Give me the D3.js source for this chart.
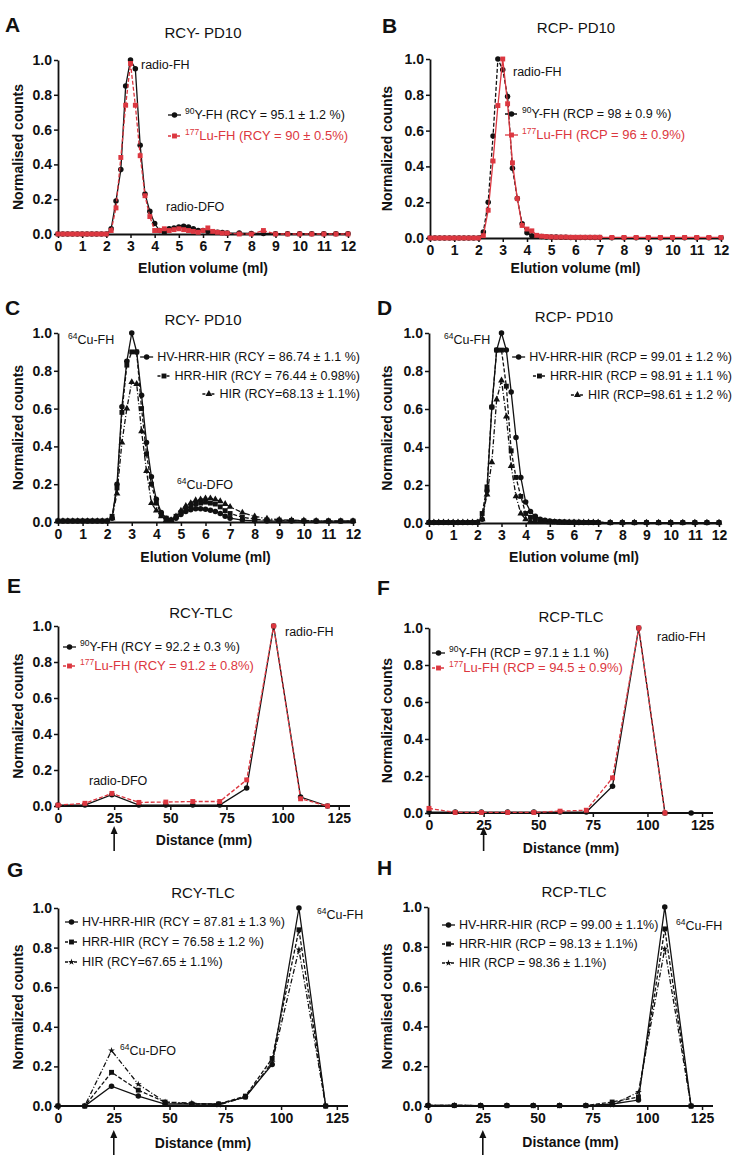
<!DOCTYPE html>
<html><head><meta charset="utf-8">
<script src="https://cdn.jsdelivr.net/npm/d3@7"></script>
<style>
body{margin:0;background:#fff}
text{font-family:"Liberation Sans",Arial,sans-serif;fill:#111}
</style></head><body>
<script>
var RED = "#dc3740";

// PD10 elution volumes (ml)
var pd10Vol = [0,0.2,0.4,0.6,0.8,1,1.2,1.4,1.6,1.8,2,
  2.2,2.4,2.6,2.8,3,3.2,3.4,3.6,3.8,4,4.2,4.4,4.6,4.8,5,5.2,5.4,5.6,5.8,6,6.2,6.4,6.6,6.8,7,
  7.5,8,8.5,9,9.5,10,10.5,11,11.5,12];
// TLC distance (mm)
var tlcDist = [0,12,24,36,48,60,72,84,96,108,120];

var pd10Ticks = [0,1,2,3,4,5,6,7,8,9,10,11,12];
var tlcTicks = [0,25,50,75,100,125];
var yTicks = [0,0.2,0.4,0.6,0.8,1.0];

// A  RCY PD10
var aY90 = [0,0,0,0,0,0,0,0,0,0,0,
  0.03,0.19,0.37,0.85,1.0,0.95,0.51,0.23,0.13,0.06,0.02,0.01,0.03,0.035,0.04,0.045,0.04,0.03,0.02,0.02,0.015,0.01,0.01,0.008,0.005,
  0.005,0.003,0.003,0.002,0.002,0.002,0.002,0.002,0.002,0.002];
var aLu = [0,0,0,0,0,0,0,0,0,0,0,
  0.02,0.15,0.44,0.74,0.98,0.74,0.45,0.22,0.1,0.02,0.02,0.03,0.02,0.025,0.03,0.025,0.02,0.015,0.01,0.02,0.035,0.015,0.01,0.005,0.005,
  0,0,0.02,0,0,0,0,0,0,0];
// B  RCP PD10
var bY90 = [0,0,0,0,0,0,0,0,0,0,0,
  0.034,0.2,0.57,1.0,0.94,0.79,0.39,0.22,0.08,0.03,0.013,0.01,0.008,0.006,0.005,0.005,0.004,0.004,0.003,0.003,0.003,0.003,0.003,0.003,0.003,
  0.002,0.002,0.002,0.002,0.002,0.002,0.002,0.002,0.002,0.002];
var bLu = [0,0,0,0,0,0,0,0,0,0,0,
  0.013,0.155,0.43,0.74,1.0,0.75,0.42,0.22,0.07,0.05,0.04,0.015,0.01,0.008,0.006,0.005,0.005,0.005,0.004,0.004,0.004,0.004,0.004,0.004,0.004,
  0.003,0.003,0.003,0.003,0.003,0.003,0.003,0.003,0.003,0.003];
// C  RCY PD10 64Cu
var cHV = [0.005,0.005,0.005,0.005,0.005,0.005,0.005,0.005,0.005,0.005,0.005,
  0.02,0.2,0.61,0.85,1.0,0.9,0.67,0.42,0.24,0.12,0.05,0.02,0.01,0.02,0.04,0.055,0.065,0.07,0.07,0.068,0.062,0.055,0.045,0.03,0.02,
  0.01,0.006,0.005,0.005,0.005,0.005,0.005,0.005,0.005,0.005];
var cHRR = [0.005,0.005,0.005,0.005,0.005,0.005,0.005,0.005,0.005,0.005,0.005,
  0.03,0.18,0.58,0.83,0.9,0.9,0.6,0.36,0.2,0.1,0.04,0.02,0.01,0.03,0.05,0.07,0.085,0.095,0.1,0.105,0.1,0.095,0.08,0.06,0.045,
  0.025,0.015,0.01,0.01,0.008,0.006,0.005,0.005,0.005,0.005];
var cHIR = [0.005,0.005,0.005,0.005,0.005,0.005,0.005,0.005,0.005,0.005,0.005,
  0.02,0.15,0.42,0.6,0.74,0.73,0.48,0.27,0.1,0.06,0.03,0.01,0.01,0.03,0.06,0.085,0.1,0.115,0.12,0.125,0.125,0.12,0.11,0.095,0.08,
  0.05,0.03,0.018,0.012,0.01,0.008,0.006,0.005,0.005,0.005];
// D  RCP PD10 64Cu
var dHV = [0.003,0.003,0.003,0.003,0.003,0.003,0.003,0.003,0.003,0.003,0.003,
  0.02,0.17,0.61,0.91,1.0,0.91,0.69,0.45,0.24,0.11,0.06,0.035,0.02,0.015,0.01,0.008,0.006,0.005,0.004,0.004,0.003,0.003,0.003,0.003,0.003,
  0.002,0.002,0.002,0.002,0.002,0.002,0.002,0.002,0.002,0.002];
var dHRR = [0.003,0.003,0.003,0.003,0.003,0.003,0.003,0.003,0.003,0.003,0.003,
  0.05,0.19,0.61,0.91,0.91,0.72,0.38,0.24,0.14,0.05,0.03,0.02,0.015,0.01,0.008,0.006,0.005,0.005,0.004,0.004,0.004,0.003,0.003,0.003,0.003,
  0.002,0.002,0.002,0.002,0.002,0.002,0.002,0.002,0.002,0.002];
var dHIR = [0.003,0.003,0.003,0.003,0.003,0.003,0.003,0.003,0.003,0.003,0.003,
  0.02,0.15,0.32,0.65,0.75,0.56,0.3,0.14,0.05,0.02,0.01,0.008,0.006,0.005,0.004,0.004,0.003,0.003,0.003,0.003,0.003,0.003,0.003,0.003,0.003,
  0.002,0.002,0.002,0.002,0.002,0.002,0.002,0.002,0.002,0.002];
// E  RCY TLC
var eY90 = [0.005,0.005,0.063,0.005,0.005,0.005,0.005,0.1,1.0,0.05,0];
var eLu  = [0.005,0.015,0.07,0.02,0.022,0.025,0.025,0.145,1.0,0.04,0];
// F  RCP TLC
var fY90 = [0.005,0.005,0.005,0.005,0.005,0.005,0.005,0.145,1.0,0,0];
var fLu  = [0.025,0.003,0.003,0.003,0.003,0.01,0.015,0.19,1.0,0,0];
// G  RCY TLC 64Cu
var gHV  = [0,0,0.1,0.05,0.01,0.01,0.01,0.045,0.21,1.0,0];
var gHRR = [0,0,0.17,0.08,0.02,0.01,0.01,0.05,0.24,0.89,0];
var gHIR = [0,0,0.28,0.11,0.02,0.015,0.005,0.045,0.22,0.79,0];
// H  RCP TLC 64Cu
var hHV  = [0.003,0.003,0.002,0.002,0.002,0.002,0.002,0.01,0.03,1.0,0];
var hHRR = [0.003,0.003,0.002,0.002,0.002,0.002,0.002,0.02,0.045,0.89,0];
var hHIR = [0.003,0.003,0.002,0.002,0.002,0.002,0.002,0.005,0.07,0.79,0];

// line styles
var solidDot   = {stroke:"#111", dash:null, sym:d3.symbolCircle, size:24};
var dashDot    = {stroke:"#111", dash:"4,2", sym:d3.symbolCircle, size:24};
var redSquare  = {stroke:RED, dash:"4,2", sym:d3.symbolSquare, size:24};
var redSolid   = {stroke:RED, dash:null, sym:d3.symbolSquare, size:24};
var dashSquare = {stroke:"#111", dash:"4,2", sym:d3.symbolSquare, size:24};
var dotTri     = {stroke:"#111", dash:"5,2,1,2", sym:d3.symbolTriangle, size:20};
var dotStar    = {stroke:"#111", dash:"5,2,1,2", sym:d3.symbolStar, size:14};

var svg = d3.select("body").append("svg")
  .attr("width", 738).attr("height", 1161);
svg.append("rect").attr("width",738).attr("height",1161).attr("fill","#fff");

function supText(g, x, y, sup, rest, opt) {
  opt = opt || {};
  var t = g.append("text").attr("x", x).attr("y", y)
    .attr("font-size", opt.size || 12)
    .attr("text-anchor", opt.anchor || "start")
    .style("fill", opt.color || "#111");
  if (sup) {
    t.append("tspan").attr("font-size", 8.5).attr("dy", -5).text(sup);
    t.append("tspan").attr("dy", 5).text(rest);
  } else {
    t.text(rest);
  }
  return t;
}

function panel(p) {
  var g = svg.append("g");
  var x = d3.scaleLinear().domain(p.xDomain).range([p.left, p.right]);
  var y = d3.scaleLinear().domain([0, 1]).range([p.bottom, p.top]);

  var xa = g.append("g").attr("transform", "translate(0," + p.bottom + ")")
    .call(d3.axisBottom(x).tickValues(p.xTicks).tickSize(4).tickSizeOuter(0).tickPadding(3).tickFormat(d3.format("d")));
  var ya = g.append("g").attr("transform", "translate(" + p.left + ",0)")
    .call(d3.axisLeft(y).tickValues(yTicks).tickSize(4).tickSizeOuter(0).tickPadding(2).tickFormat(d3.format(".1f")));
  [xa, ya].forEach(function(a) {
    a.select(".domain").attr("stroke", "#111").attr("stroke-width", 1.8);
    a.selectAll(".tick line").attr("stroke", "#111").attr("stroke-width", 1.5);
    a.selectAll(".tick text").attr("font-size", 14).attr("font-weight", "bold")
      .attr("font-family", "'Liberation Sans',Arial,sans-serif").style("fill", "#111");
  });
  if (p.xDomain[1] > 12) {
    // axis line runs a bit past the last tick
    xa.select(".domain").attr("d", "M" + p.left + ",0H" + p.right);
  }

  var line = d3.line().x(function(d) { return x(d[0]); }).y(function(d) { return y(d[1]); });

  p.series.forEach(function(s) {
    var pts = s.xs.map(function(v, i) { return [v, s.ys[i]]; });
    g.append("path").datum(pts).attr("d", line)
      .attr("fill", "none").attr("stroke", s.st.stroke).attr("stroke-width", 1.3)
      .attr("stroke-dasharray", s.st.dash);
    g.selectAll(null).data(pts).enter().append("path")
      .attr("transform", function(d) { return "translate(" + x(d[0]) + "," + y(d[1]) + ")"; })
      .attr("d", d3.symbol().type(s.st.sym).size(s.st.size))
      .attr("fill", s.st.stroke);
  });

  // legend
  p.legend.forEach(function(l, i) {
    var s = p.series[i];
    var isRed = s.st.stroke === RED;
    var t = supText(g, l.x, l.y + 4, l.sup, l.text, {size: isRed ? 13 : 12.5, color: isRed ? RED : "#111",
      anchor: l.anchor});
    var start = l.x;
    if (l.anchor === "end") start = l.x - t.node().getComputedTextLength();
    g.append("line").attr("x1", start - 17).attr("x2", start - 4).attr("y1", l.y).attr("y2", l.y)
      .attr("stroke", s.st.stroke).attr("stroke-width", 1.3).attr("stroke-dasharray", s.st.dash ? "3,1.5" : null);
    g.append("path").attr("transform", "translate(" + (start - 10.5) + "," + l.y + ")")
      .attr("d", d3.symbol().type(s.st.sym).size(s.st.size)).attr("fill", s.st.stroke);
  });

  p.notes.forEach(function(n) { supText(g, n.x, n.y, n.sup, n.text, {size: 12.5}); });

  // panel letter, title, axis titles
  g.append("text").attr("x", p.letter[0]).attr("y", p.letter[1]).attr("font-size", 21)
    .attr("font-weight", "bold").text(p.letter[2]);
  g.append("text").attr("x", p.title[0]).attr("y", p.title[1]).attr("text-anchor", "middle")
    .attr("font-size", 15).text(p.title[2]);
  g.append("text").attr("x", (p.left + p.right) / 2).attr("y", p.xTitleY).attr("text-anchor", "middle")
    .attr("font-size", 14).attr("font-weight", "bold").text(p.xTitle);
  g.append("text").attr("transform", "translate(" + p.yTitleX + "," + ((p.top + p.bottom) / 2) + ") rotate(-90)")
    .attr("text-anchor", "middle").attr("font-size", 14).attr("font-weight", "bold").text(p.yTitle);

  if (p.arrow) {
    var ax = x(25);
    g.append("line").attr("x1", ax).attr("x2", ax).attr("y1", p.arrow[0] + 6).attr("y2", p.arrow[1])
      .attr("stroke", "#111").attr("stroke-width", 1.6);
    g.append("path").attr("d", "M" + ax + "," + p.arrow[0] + "l-3.5,8h7z").attr("fill", "#111");
  }
}

panel({
  left: 58, right: 348, top: 60, bottom: 234, xDomain: [0, 12], xTicks: pd10Ticks,
  series: [{xs: pd10Vol, ys: aY90, st: solidDot}, {xs: pd10Vol, ys: aLu, st: redSquare}],
  legend: [{x: 185, y: 115, sup: "90", text: "Y-FH (RCY = 95.1 ± 1.2 %)"},
           {x: 185, y: 136, sup: "177", text: "Lu-FH (RCY = 90 ± 0.5%)"}],
  notes: [{x: 141, y: 69, text: "radio-FH"}, {x: 166, y: 211, text: "radio-DFO"}],
  letter: [5, 32, "A"], title: [203, 38, "RCY- PD10"],
  xTitle: "Elution volume (ml)", xTitleY: 273, yTitle: "Normalised counts", yTitleX: 23
});
panel({
  left: 430, right: 721, top: 59, bottom: 238, xDomain: [0, 12], xTicks: pd10Ticks,
  series: [{xs: pd10Vol, ys: bY90, st: dashDot}, {xs: pd10Vol, ys: bLu, st: redSolid}],
  legend: [{x: 522, y: 114, sup: "90", text: "Y-FH (RCP = 98 ± 0.9 %)"},
           {x: 522, y: 135, sup: "177", text: "Lu-FH (RCP = 96 ± 0.9%)"}],
  notes: [{x: 513, y: 76, text: "radio-FH"}],
  letter: [382, 33, "B"], title: [576, 33, "RCP- PD10"],
  xTitle: "Elution volume (ml)", xTitleY: 273, yTitle: "Normalized counts", yTitleX: 392
});
panel({
  left: 58, right: 353, top: 333, bottom: 522, xDomain: [0, 12], xTicks: pd10Ticks,
  series: [{xs: pd10Vol, ys: cHV, st: solidDot}, {xs: pd10Vol, ys: cHRR, st: dashSquare}, {xs: pd10Vol, ys: cHIR, st: dotTri}],
  legend: [{x: 360, y: 357, anchor: "end", text: "HV-HRR-HIR (RCY = 86.74 ± 1.1 %)"},
           {x: 360, y: 376, anchor: "end", text: "HRR-HIR (RCY = 76.44 ± 0.98%)"},
           {x: 360, y: 394, anchor: "end", text: "HIR (RCY=68.13 ± 1.1%)"}],
  notes: [{x: 68, y: 344, sup: "64", text: "Cu-FH"}, {x: 177, y: 489, sup: "64", text: "Cu-DFO"}],
  letter: [5, 315, "C"], title: [203, 325, "RCY- PD10"],
  xTitle: "Elution Volume (ml)", xTitleY: 562, yTitle: "Normalized counts", yTitleX: 23
});
panel({
  left: 429, right: 719, top: 333, bottom: 523, xDomain: [0, 12], xTicks: pd10Ticks,
  series: [{xs: pd10Vol, ys: dHV, st: solidDot}, {xs: pd10Vol, ys: dHRR, st: dashSquare}, {xs: pd10Vol, ys: dHIR, st: dotTri}],
  legend: [{x: 732, y: 357, anchor: "end", text: "HV-HRR-HIR (RCP = 99.01 ± 1.2 %)"},
           {x: 732, y: 376, anchor: "end", text: "HRR-HIR (RCP = 98.91 ± 1.1 %)"},
           {x: 732, y: 395, anchor: "end", text: "HIR (RCP=98.61 ± 1.2 %)"}],
  notes: [{x: 444, y: 344, sup: "64", text: "Cu-FH"}],
  letter: [377, 315, "D"], title: [574, 322, "RCP- PD10"],
  xTitle: "Elution volume (ml)", xTitleY: 562, yTitle: "Normalized counts", yTitleX: 392
});
panel({
  left: 58, right: 350, top: 626, bottom: 806, xDomain: [0, 130], xTicks: tlcTicks,
  series: [{xs: tlcDist, ys: eY90, st: solidDot}, {xs: tlcDist, ys: eLu, st: redSquare}],
  legend: [{x: 80, y: 647, sup: "90", text: "Y-FH (RCY = 92.2 ± 0.3 %)"},
           {x: 80, y: 666, sup: "177", text: "Lu-FH (RCY = 91.2 ± 0.8%)"}],
  notes: [{x: 285, y: 636, text: "radio-FH"}, {x: 89, y: 785, text: "radio-DFO"}],
  letter: [7, 593, "E"], title: [201, 618, "RCY-TLC"],
  xTitle: "Distance (mm)", xTitleY: 845, yTitle: "Normalized counts", yTitleX: 23,
  arrow: [826, 851]
});
panel({
  left: 429, right: 713, top: 628, bottom: 813, xDomain: [0, 130], xTicks: tlcTicks,
  series: [{xs: tlcDist, ys: fY90, st: solidDot}, {xs: tlcDist.slice(0, 10), ys: fLu.slice(0, 10), st: redSquare}],
  legend: [{x: 449, y: 653, sup: "90", text: "Y-FH (RCP = 97.1 ± 1.1 %)"},
           {x: 449, y: 668, sup: "177", text: "Lu-FH (RCP = 94.5 ± 0.9%)"}],
  notes: [{x: 657, y: 641, text: "radio-FH"}],
  letter: [377, 595, "F"], title: [571, 622, "RCP-TLC"],
  xTitle: "Distance (mm)", xTitleY: 853, yTitle: "Normalized counts", yTitleX: 392,
  arrow: [827, 851]
});
panel({
  left: 58, right: 348, top: 908, bottom: 1106, xDomain: [0, 130], xTicks: tlcTicks,
  series: [{xs: tlcDist, ys: gHV, st: solidDot}, {xs: tlcDist, ys: gHRR, st: dashSquare}, {xs: tlcDist, ys: gHIR, st: dotStar}],
  legend: [{x: 82, y: 922, text: "HV-HRR-HIR (RCY = 87.81 ± 1.3 %)"},
           {x: 82, y: 942, text: "HRR-HIR (RCY = 76.58 ± 1.2 %)"},
           {x: 82, y: 962, text: "HIR (RCY=67.65 ± 1.1%)"}],
  notes: [{x: 317, y: 919, sup: "64", text: "Cu-FH"}, {x: 120, y: 1055, sup: "64", text: "Cu-DFO"}],
  letter: [7, 877, "G"], title: [203, 898, "RCY-TLC"],
  xTitle: "Distance (mm)", xTitleY: 1148, yTitle: "Normalized counts", yTitleX: 23,
  arrow: [1130, 1155]
});
panel({
  left: 428, right: 713, top: 907, bottom: 1106, xDomain: [0, 130], xTicks: tlcTicks,
  series: [{xs: tlcDist, ys: hHV, st: solidDot}, {xs: tlcDist, ys: hHRR, st: dashSquare}, {xs: tlcDist, ys: hHIR, st: dotStar}],
  legend: [{x: 459, y: 925, text: "HV-HRR-HIR (RCP = 99.00 ± 1.1%)"},
           {x: 459, y: 944, text: "HRR-HIR (RCP = 98.13 ± 1.1%)"},
           {x: 459, y: 963, text: "HIR (RCP = 98.36 ± 1.1%)"}],
  notes: [{x: 676, y: 930, sup: "64", text: "Cu-FH"}],
  letter: [377, 875, "H"], title: [574, 897, "RCP-TLC"],
  xTitle: "Distance (mm)", xTitleY: 1147, yTitle: "Normalised counts", yTitleX: 392,
  arrow: [1130, 1155]
});
</script>
</body></html>
